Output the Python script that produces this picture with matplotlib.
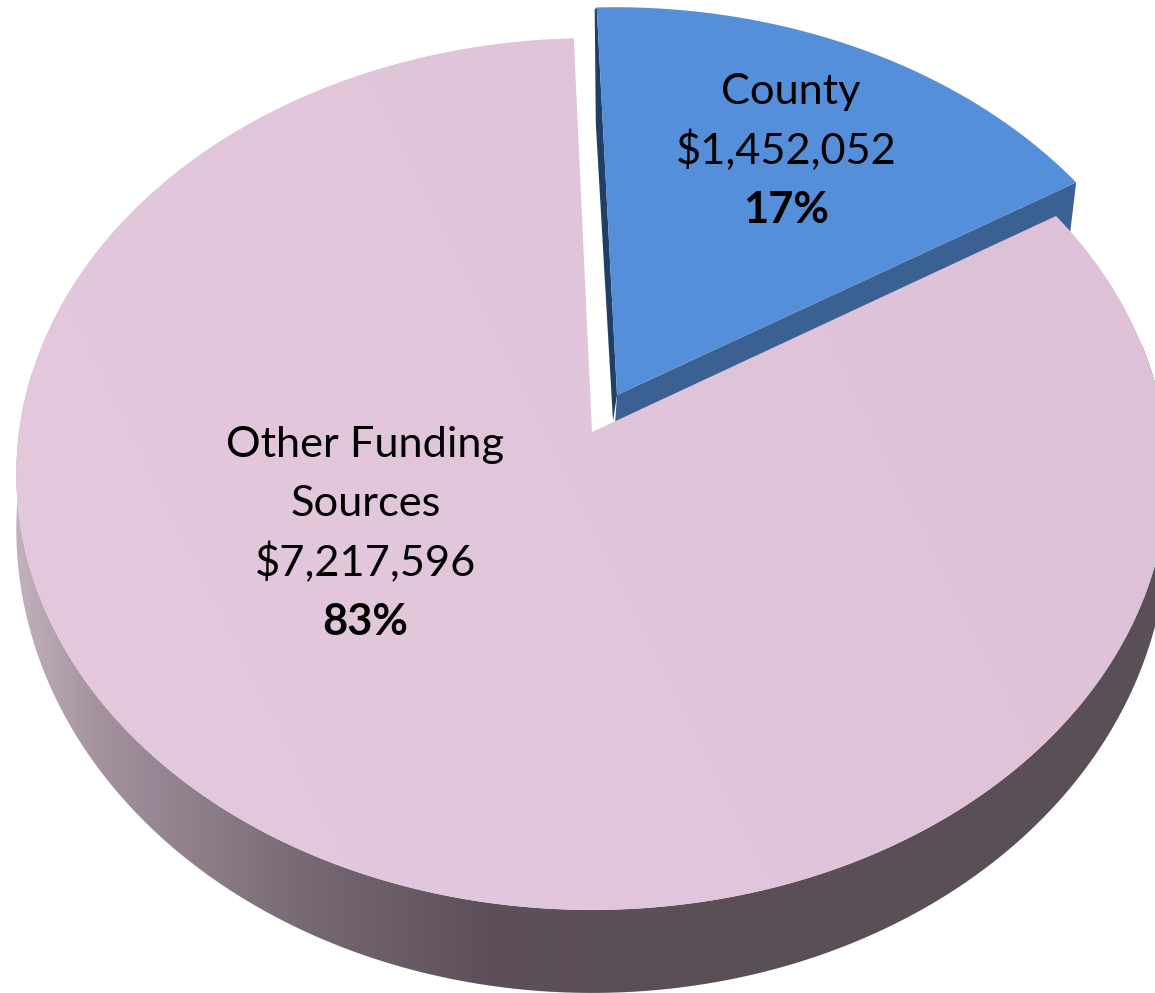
import numpy as np
import matplotlib
matplotlib.use("Agg")
import matplotlib.pyplot as plt
from matplotlib.colors import LinearSegmentedColormap
from matplotlib.patches import Polygon

# data
labels = [["County"], ["Other Funding", "Sources"]]
amounts = [1452052, 7217596]

WIDTH, HEIGHT = 1155, 993

# perspective of the pie top, pixel coordinates of the reference
CX, CY = 592, 432
RX, RY = 573, 390.3
PERSP = 0.0963
START_ANGLE = 92
EXPLODE = (0.044, 0.0864)


def project(x, y):
    w = 1 + PERSP * y
    return CX + RX * x / w, (CY - RY * y) / w


def depth(y):
    # side wall is taller toward the viewer
    return 52 - 31 * y


def rim(a0, a1, n=300):
    t = np.radians(np.linspace(a0, a1, n))
    return np.cos(t), np.sin(t)


def gradient_fill(ax, pts, stops, zorder, tilt=0.0):
    # tilt mixes some vertical change into the horizontal gradient
    patch = Polygon(pts, closed=True, fc="none", ec="none", transform=ax.transData)
    ax.add_patch(patch)
    cmap = LinearSegmentedColormap.from_list("g", stops)
    gx, gy = np.meshgrid(np.linspace(0, 1, 512), np.linspace(0, 1, 256))
    img = ax.imshow(
        (1 - tilt) * gx + tilt * (1 - gy),
        cmap=cmap,
        vmin=0,
        vmax=1,
        extent=(0, WIDTH, HEIGHT, 0),
        aspect="auto",
        zorder=zorder,
    )
    img.set_clip_path(patch)


fractions = np.array(amounts) / sum(amounts)
sweep = fractions * 360
county_end = START_ANGLE - sweep[0]

fig = plt.figure(figsize=(WIDTH / 100, HEIGHT / 100), dpi=100, facecolor="white")
ax = fig.add_axes([0, 0, 1, 1])
ax.axis("off")

# big slice: wall first, only the front half can be seen
x, y = rim(172, 372)
px, py = project(x, y)
wall = np.r_[np.c_[px, py], np.c_[px, py + depth(y)][::-1]]
gradient_fill(
    ax,
    wall,
    [
        (0.0, "#c9b6c3"),
        (0.08, "#a593a0"),
        (0.26, "#776a75"),
        (0.42, "#5d505a"),
        (0.55, "#5a4e57"),
        (1.0, "#5a4e57"),
    ],
    1,
)

# county slice, pulled out from the centre
x, y = rim(START_ANGLE, county_end)
px, py = project(x + EXPLODE[0], y + EXPLODE[1])
ax0, ay0 = project(*EXPLODE)

# underside band along the right cut edge
ax.add_patch(
    Polygon(
        [(ax0, ay0), (px[-1], py[-1]), (px[-1] - 6, py[-1] + 50), (ax0 - 3, ay0 + 45)],
        closed=True,
        fc="#3a6191",
        ec="none",
        zorder=2,
    )
)
# dark sliver along the left cut edge
t = np.array([0.0, 0.3, 1.0])
ex = px[0] + t * (ax0 - px[0])
ey = py[0] + t * (ay0 - py[0])
sliver = np.r_[np.c_[ex, ey], np.c_[ex - np.array([2, 7, 4]), ey + np.array([2, 0, 26])][::-1]]
ax.add_patch(Polygon(sliver, closed=True, fc="#1f3f66", ec="none", zorder=2))
ax.add_patch(
    Polygon(
        np.r_[[(ax0, ay0)], np.c_[px, py]],
        closed=True,
        fc="#558fd9",
        ec="none",
        zorder=3,
    )
)

# big slice top
x, y = rim(county_end, county_end - sweep[1])
px, py = project(x, y)
gradient_fill(
    ax,
    np.r_[[project(0, 0)], np.c_[px, py]],
    ["#e4c9df", "#e1c5db", "#dcc1d6"],
    4,
    tilt=0.3,
)

ax.set_xlim(0, WIDTH)
ax.set_ylim(HEIGHT, 0)

# labels
font = dict(family="Lato", fontsize=31.2, color="black", ha="center", va="center", zorder=5)
LINE = 59
for name, amount, frac, (tx, ty) in zip(labels, amounts, fractions, [(786, 92), (365.5, 445)]):
    lines = name + [f"${amount:,}"]
    for i, s in enumerate(lines):
        ax.text(tx if i else tx + 5 * (len(name) == 1), ty + i * LINE, s, **font)
    ax.text(tx, ty + len(lines) * LINE, f"{frac * 100:.0f}%", fontweight="bold", **font)

fig.savefig("out.png", dpi=100, facecolor="white")
